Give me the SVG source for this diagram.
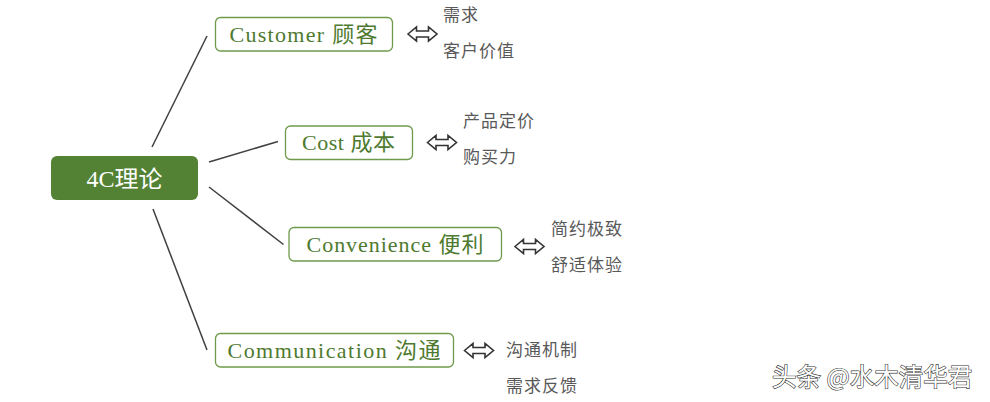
<svg xmlns="http://www.w3.org/2000/svg" width="990" height="402" viewBox="0 0 990 402">
<style>
.bg{fill:#ffffff}
.box{fill:#ffffff;stroke:#6E9B4B;stroke-width:1.3}
.root{fill:#548235}
.lbl{font-family:"Liberation Serif","Noto Sans CJK SC",serif;font-size:22px;fill:#4E7A2F;text-anchor:middle}
.rlbl{font-family:"Liberation Serif","Noto Sans CJK SC",serif;font-size:23px;fill:#ffffff;text-anchor:middle}
.sub{font-family:"Noto Sans CJK SC","Liberation Sans",sans-serif;font-size:17px;fill:#595959;letter-spacing:1px}
.conn line{stroke:#404040;stroke-width:1.5}
.arr{fill:#ffffff;stroke:#333333;stroke-width:1.6;stroke-linejoin:miter}
.wm{font-family:"Noto Sans CJK SC","Liberation Sans",sans-serif;font-size:24.5px;fill:#ffffff;stroke:#333333;stroke-width:1.2;paint-order:stroke}
</style>
<defs>
<path id="dbl" class="arr" d="M0,0 L8.5,-7 L8.5,-3 L20.5,-3 L20.5,-7 L29,0 L20.5,7 L20.5,3 L8.5,3 L8.5,7 Z"/>
</defs>
<rect class="bg" x="0" y="0" width="990" height="402"/>
<g id="connectors" class="conn">
<line x1="152" y1="147" x2="207" y2="36"/>
<line x1="209" y1="162" x2="278" y2="141.5"/>
<line x1="209" y1="187" x2="283.5" y2="244.5"/>
<line x1="153" y1="209" x2="207" y2="350"/>
</g>
<g id="node-root">
<rect class="root" x="51" y="156" width="147" height="44" rx="6"/>
<text class="rlbl" x="124.5" y="186.5" textLength="76" lengthAdjust="spacingAndGlyphs">4C理论</text>
</g>
<g id="node-customer">
<rect class="box" x="215.5" y="17.5" width="177" height="33.5" rx="5"/>
<text class="lbl" x="303.5" y="41.5" textLength="148" lengthAdjust="spacing">Customer 顾客</text>
<use href="#dbl" x="408" y="34"/>
<text class="sub" x="443" y="21">需求</text>
<text class="sub" x="443" y="57">客户价值</text>
</g>
<g id="node-cost">
<rect class="box" x="285.5" y="126" width="127" height="33.5" rx="5"/>
<text class="lbl" x="348.5" y="150" textLength="93" lengthAdjust="spacing">Cost 成本</text>
<use href="#dbl" x="427.5" y="142.5"/>
<text class="sub" x="463" y="127">产品定价</text>
<text class="sub" x="463" y="163">购买力</text>
</g>
<g id="node-convenience">
<rect class="box" x="289" y="227.5" width="212.5" height="33.5" rx="5"/>
<text class="lbl" x="395" y="251.5" textLength="177" lengthAdjust="spacing">Convenience 便利</text>
<use href="#dbl" x="515" y="246.5"/>
<text class="sub" x="551" y="235">简约极致</text>
<text class="sub" x="551" y="271">舒适体验</text>
</g>
<g id="node-communication">
<rect class="box" x="215.5" y="333.5" width="238" height="33.5" rx="5"/>
<text class="lbl" x="334" y="357.5" textLength="213" lengthAdjust="spacing">Communication 沟通</text>
<use href="#dbl" x="464.5" y="350.5"/>
<text class="sub" x="506" y="356">沟通机制</text>
<text class="sub" x="506" y="392">需求反馈</text>
</g>
<text class="wm" x="772" y="386">头条 @水木清华君</text>
</svg>
